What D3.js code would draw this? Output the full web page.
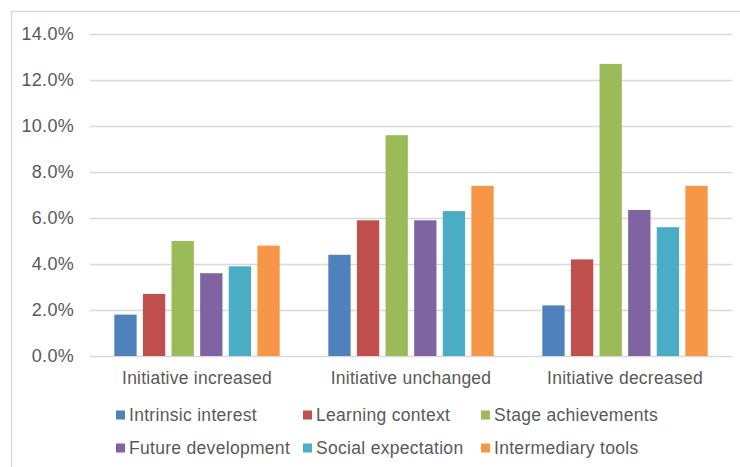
<!DOCTYPE html>
<html>
<head>
<meta charset="utf-8">
<script src="https://cdn.jsdelivr.net/npm/d3@7"></script>
<style>
  body { margin: 0; background: #fff; }
  text { font-family: "Liberation Sans", Arial, sans-serif; fill: #595959; }
</style>
</head>
<body>
<div id="chart"></div>
<script>
// chart data
let categories = ["Initiative increased", "Initiative unchanged", "Initiative decreased"];
let seriesNames = ["Intrinsic interest", "Learning context", "Stage achievements",
    "Future development", "Social expectation", "Intermediary tools"];
let intrinsicInterest = [1.8, 4.4, 2.2];
let learningContext = [2.7, 5.9, 4.2];
let stageAchievements = [5.0, 9.6, 12.7];
let futureDevelopment = [3.6, 5.9, 6.35];
let socialExpectation = [3.9, 6.3, 5.6];
let intermediaryTools = [4.8, 7.4, 7.4];
let yTicks = [0, 2, 4, 6, 8, 10, 12, 14];

let seriesValues = [intrinsicInterest, learningContext, stageAchievements,
    futureDevelopment, socialExpectation, intermediaryTools];
let colors = ["#4f81bd", "#c0504d", "#9bbb59", "#8064a2", "#4bacc6", "#f79646"];

let width = 740;
let height = 467;

let svg = d3.select("#chart").append("svg")
    .attr("width", width)
    .attr("height", height);

// outer chart frame (runs off the right and bottom edges)
svg.append("rect")
    .attr("x", 11.5)
    .attr("y", 11.5)
    .attr("width", 760)
    .attr("height", 480)
    .attr("fill", "#fff")
    .attr("stroke", "#d9d9d9")
    .attr("stroke-width", 1.5);

let plot = {left: 90, right: 732, top: 34, bottom: 356};

let y = d3.scaleLinear()
    .domain([0, 14])
    .range([plot.bottom, plot.top]);

let x0 = d3.scaleBand()
    .domain(categories)
    .range([plot.left, plot.right]);

let x1 = d3.scaleBand()
    .domain(seriesNames)
    .range([0, x0.bandwidth()])
    .paddingInner(0.22)
    .paddingOuter(0.85);

// gridlines
svg.append("g")
    .selectAll("line")
    .data(yTicks)
    .join("line")
    .attr("x1", plot.left)
    .attr("x2", plot.right)
    .attr("y1", d => Math.round(y(d)) + 0.5)
    .attr("y2", d => Math.round(y(d)) + 0.5)
    .attr("stroke", "#d9d9d9")
    .attr("stroke-width", 1.5);

// y tick labels
svg.append("g")
    .selectAll("text")
    .data(yTicks)
    .join("text")
    .attr("x", 74)
    .attr("y", d => y(d))
    .attr("dy", "0.36em")
    .attr("text-anchor", "end")
    .style("font-size", "18px")
    .style("letter-spacing", "0.3px")
    .text(d => d.toFixed(1) + "%");

// bars
let groups = svg.append("g")
    .selectAll("g")
    .data(categories)
    .join("g")
    .attr("transform", d => "translate(" + x0(d) + ",0)");

groups.selectAll("rect")
    .data((c, ci) => seriesNames.map((s, si) => ({series: s, i: si, value: seriesValues[si][ci]})))
    .join("rect")
    .attr("x", d => x1(d.series))
    .attr("width", x1.bandwidth())
    .attr("y", d => y(d.value))
    .attr("height", d => y(0) - y(d.value))
    .attr("fill", d => colors[d.i]);

// category labels
svg.append("g")
    .selectAll("text")
    .data(categories)
    .join("text")
    .attr("x", d => x0(d) + x0.bandwidth() / 2)
    .attr("y", 384)
    .attr("text-anchor", "middle")
    .style("font-size", "17.5px")
    .style("letter-spacing", "0.25px")
    .text(d => d);

// legend, 3 columns x 2 rows
let legendCols = [116, 303, 481];
let legendRows = [415, 448];

let legend = svg.append("g")
    .selectAll("g")
    .data(seriesNames)
    .join("g")
    .attr("transform", (d, i) => "translate(" + legendCols[i % 3] + "," + legendRows[Math.floor(i / 3)] + ")");

legend.append("rect")
    .attr("x", 0)
    .attr("y", -4.5)
    .attr("width", 9)
    .attr("height", 9)
    .attr("fill", (d, i) => colors[i]);

legend.append("text")
    .attr("x", 13)
    .attr("y", 0)
    .attr("dy", "0.36em")
    .style("font-size", "17.5px")
    .style("letter-spacing", "0.3px")
    .text(d => d);
</script>
</body>
</html>
